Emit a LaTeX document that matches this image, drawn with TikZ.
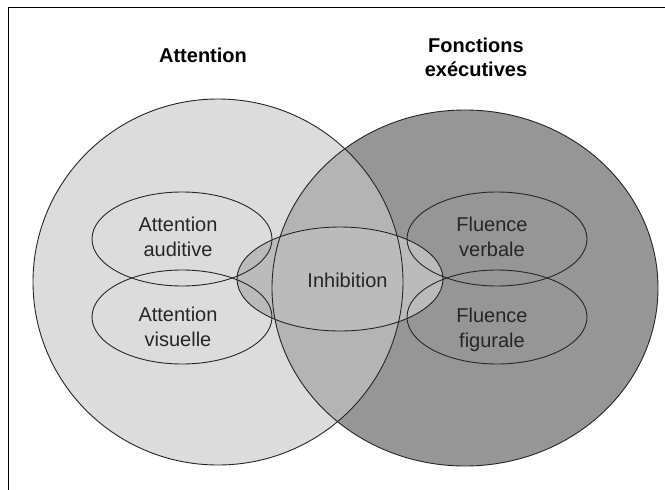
\documentclass[tikz,border=0pt]{standalone}
\usepackage{fontspec}
\setmainfont{Liberation Sans}
\definecolor{attfill}{HTML}{DCDCDC}
\definecolor{execfill}{HTML}{969696}
\definecolor{bothfill}{HTML}{B4B4B4}
\definecolor{inhfill}{HTML}{BBBBBB}
\begin{document}
\begin{tikzpicture}[x=1pt,y=-1pt,
    outline/.style={draw=black!85,line width=0.9pt},
    headtxt/.style={font=\bfseries\fontsize{20}{24}\selectfont,align=center,inner sep=0pt},
    bodytxt/.style={font=\fontsize{20}{25}\selectfont,text=black!85,align=center,inner sep=0pt}]
      \useasboundingbox (0,0) rectangle (665,490);
      \draw[line width=1pt] (8,490) -- (8,7) -- (665,7);

      \fill[attfill] (218,282) ellipse [x radius=185,y radius=183];
      \fill[execfill] (465,288) ellipse [x radius=193,y radius=178];
      \begin{scope}
        \clip (218,282) ellipse [x radius=185,y radius=183];
        \fill[bothfill] (465,288) ellipse [x radius=193,y radius=178];
      \end{scope}
      \fill[inhfill] (340,279) ellipse [x radius=103,y radius=52];

      \foreach \cx/\cy/\rx/\ry in {218/282/185/183,465/288/193/178,
          182/239/90/47,182/317/90/47,497/239/90/47,497/317/90/47,340/279/103/52}
        \draw[outline] (\cx,\cy) ellipse [x radius=\rx,y radius=\ry];

      \node[headtxt,anchor=base] (att) at (203,62) {Attention};
      \node[headtxt] (exec) at (476,57) {Fonctions\\exécutives};

      \node[bodytxt] (audit) at (178,237.3) {Attention\\auditive};
      \node[bodytxt] (visu) at (178,327.3) {Attention\\visuelle};
      \node[bodytxt,anchor=base] (inhib) at (347.5,287) {Inhibition};
      \node[bodytxt] (verb) at (492,237.3) {Fluence\\verbale};
      \node[bodytxt] (figur) at (492,329.5) {Fluence\\figurale};
    \end{tikzpicture}
\end{document}
